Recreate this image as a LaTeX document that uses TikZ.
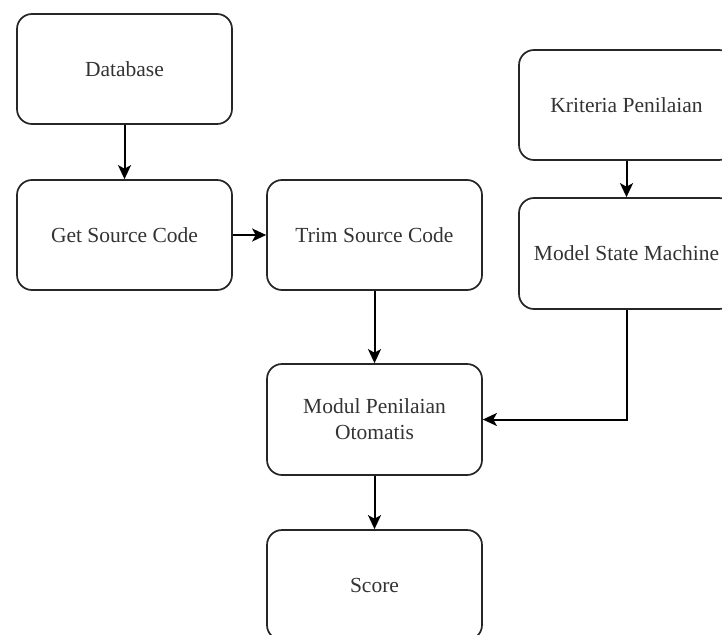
\documentclass[tikz,border=0pt]{standalone}
\usepackage{fontspec}
\setmainfont{Liberation Serif}
\usetikzlibrary{arrows.meta}
\begin{document}
\begin{tikzpicture}[x=1pt,y=-1pt,
  box/.style={draw=black!85, line width=1.7pt, rounded corners=15pt,
    minimum width=215pt, minimum height=110pt, inner sep=0pt,
    font=\fontsize{21.5pt}{26pt}\selectfont, text=black!80, align=center},
  conn/.style={draw=black, line width=2pt,
    -{Stealth[length=14pt,width=13pt,inset=3.5pt]}}]
\useasboundingbox (0,0) rectangle (722,634);
\clip (0,0) rectangle (722,634);
\fill[white] (0,0) rectangle (722,634);
\node[box] (db) at (124.5,69) {Database};
\node[box] (get) at (124.5,235) {Get Source Code};
\node[box] (trim) at (374.5,235) {Trim Source Code};
\node[box, minimum height=111pt] (modul) at (374.5,419.5) {Modul Penilaian\\Otomatis};
\node[box] (score) at (374.5,585) {Score};
\node[box] (krit) at (626.5,105) {Kriteria Penilaian};
\node[box, minimum height=111pt] (model) at (626.5,253.5) {Model State Machine};
\draw[conn] (db) -- (get);
\draw[conn] (get) -- (trim);
\draw[conn] (trim) -- (modul);
\draw[conn] (modul) -- (score);
\draw[conn] (krit) -- (model);
\draw[conn] (model.south) |- (modul.east);
\end{tikzpicture}
\end{document}
